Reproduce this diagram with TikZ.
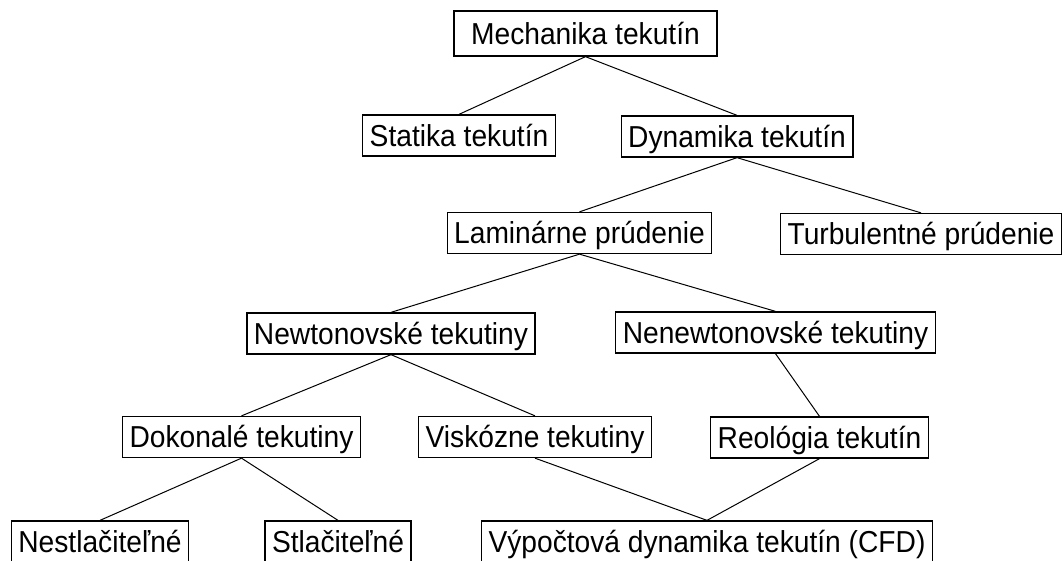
\documentclass[tikz,border=0pt]{standalone}
\usepackage{fontspec}
\setmainfont{Liberation Sans}[FakeStretch=0.93]
\usepackage{tikz}

\begin{document}
\begin{tikzpicture}[x=1pt, y=-1pt,
    box/.style={draw, line width=1.3pt, inner xsep=7pt, minimum height=41pt,
        text height=21.7pt, text depth=0pt, font=\fontsize{30.3}{36}\selectfont},
    link/.style={line width=1pt}]
\useasboundingbox (0,0) rectangle (1063,560);
\node[box, minimum width=263pt, minimum height=45pt] (mech) at (585.5,33.5) {Mechanika tekutín};
\node[box] (statika) at (459,135.5) {Statika tekutín};
\node[box] (dynamika) at (737,136.5) {Dynamika tekutín};
\node[box] (laminar) at (579.5,233) {Laminárne prúdenie};
\node[box] (turbul) at (921,234) {Turbulentné prúdenie};
\node[box] (newton) at (391,333.5) {Newtonovské tekutiny};
\node[box] (nenewton) at (775.5,332.5) {Nenewtonovské tekutiny};
\node[box] (dokonale) at (241.5,437) {Dokonalé tekutiny};
\node[box] (viskozne) at (535,437) {Viskózne tekutiny};
\node[box] (reologia) at (819.5,437.5) {Reológia tekutín};
\node[box] (nestlac) at (100,541.5) {Nestlačiteľné};
\node[box] (stlac) at (338,541.5) {Stlačiteľné};
\node[box] (cfd) at (707,541.5) {Výpočtová dynamika tekutín (CFD)};

\draw[link] (mech.south) -- (statika.north);
\draw[link] (mech.south) -- (dynamika.north);
\draw[link] (dynamika.south) -- (laminar.north);
\draw[link] (dynamika.south) -- (turbul.north);
\draw[link] (laminar.south) -- (newton.north);
\draw[link] (laminar.south) -- (nenewton.north);
\draw[link] (newton.south) -- (dokonale.north);
\draw[link] (newton.south) -- (viskozne.north);
\draw[link] (nenewton.south) -- (reologia.north);
\draw[link] (dokonale.south) -- (nestlac.north);
\draw[link] (dokonale.south) -- (stlac.north);
\draw[link] (viskozne.south) -- (cfd.north);
\draw[link] (reologia.south) -- (cfd.north);
\end{tikzpicture}
\end{document}
